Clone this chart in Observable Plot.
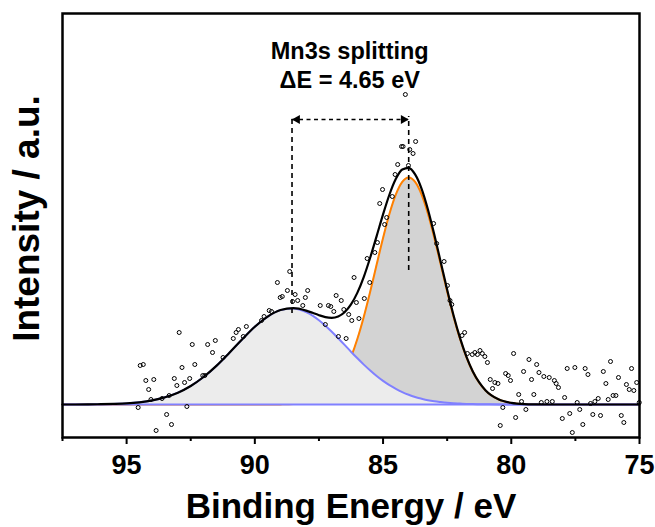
<!DOCTYPE html>
<html>
<head>
<meta charset="utf-8">
<script src="https://cdn.jsdelivr.net/npm/d3@7"></script>
<script src="https://cdn.jsdelivr.net/npm/@observablehq/plot@0.6"></script>
<style>
html, body { margin: 0; padding: 0; background: #fff; }
</style>
</head>
<body>
<div id="chart"></div>
<script>
// Binding energy grid (eV) at which the fitted curves are read
const curveBE = [97.5, 97, 96.5, 96, 95.5, 95, 94.5, 94, 93.5, 93, 92.5, 92, 91.5, 91, 90.5, 90, 89.5, 89, 88.5, 88,
  87.75, 87.5, 87.25, 87, 86.75, 86.5, 86.25, 86, 85.75, 85.5, 85.25, 85, 84.75, 84.5, 84.25, 84, 83.75, 83.5, 83.25, 83,
  82.75, 82.5, 82.25, 82, 81.75, 81.5, 81.25, 81, 80.5, 80, 79.5, 79, 78.5, 78, 77.5, 77, 76.5, 76, 75.5, 75];
// Satellite component (blue) and main component (orange), background-subtracted
const blueFit = [0, 0, 0.1, 0.3, 0.6, 1.1, 2.2, 4.1, 7.2, 11.8, 18.5, 27.5, 38.6, 51.5, 65.0, 77.7, 87.9, 94.4, 95.9, 92.3,
  88.8, 84.2, 78.8, 72.8, 66.3, 59.6, 52.8, 46.2, 39.9, 34.0, 28.5, 23.6, 19.3, 15.6, 12.4, 9.7, 7.5, 5.8, 4.3, 3.2,
  2.4, 1.7, 1.2, 0.9, 0.6, 0.4, 0.3, 0.2, 0.1, 0, 0, 0, 0, 0, 0, 0, 0, 0, 0, 0];
const orangeFit = [0, 0, 0, 0, 0, 0, 0, 0, 0, 0, 0, 0, 0, 0, 0, 0, 0, 0.1, 0.4, 1.6,
  2.9, 5.1, 8.6, 13.9, 21.8, 32.7, 47.3, 65.7, 87.8, 113.0, 139.9, 166.5, 190.7, 210.1, 222.6, 227, 222.6, 210.1, 190.7, 166.5,
  139.9, 113.0, 87.8, 65.7, 47.3, 32.7, 21.8, 13.9, 5.1, 1.6, 0.4, 0.1, 0, 0, 0, 0, 0, 0, 0, 0];
// Background (baseline) level
const baselineLevel = [0];

// Measured spectrum points
const pointBE = [94.55,94.47,94.35,94.25,94.14,94.05,93.94,93.85,93.62,93.44,
  93.34,93.25,93.14,93.04,92.95,92.84,92.74,92.65,92.54,92.44,
  92.34,92.03,91.95,91.84,91.65,91.54,91.24,90.84,90.73,90.64,
  90.45,90.33,89.74,89.64,89.44,89.35,89.12,89.01,88.93,88.73,
  88.64,88.53,88.43,88.33,88.13,88.03,87.94,87.45,87.25,87.13,
  87.04,86.92,86.83,86.74,86.63,86.53,86.44,86.34,86.22,86.13,
  86.04,85.94,85.73,85.62,85.52,85.32,85.22,85.13,85.02,84.94,
  84.86,84.64,84.53,84.43,84.28,84.22,84.13,84.01,83.96,83.83,
  83.73,83.03,82.91,82.62,82.49,82.39,82.32,81.92,81.82,81.71,
  81.52,81.42,81.32,81.22,81.13,81.03,80.93,80.82,80.73,80.64,
  80.52,80.43,80.33,80.22,80.12,80.03,79.91,79.83,79.71,79.60,
  79.52,79.43,79.31,79.21,79.12,79.01,78.92,78.83,78.73,78.61,
  78.52,78.40,78.32,78.25,78.16,78.01,77.92,77.82,77.72,77.62,
  77.52,77.43,77.33,77.21,77.12,77.01,76.91,76.82,76.74,76.61,
  76.52,76.41,76.31,76.22,76.13,76.03,75.92,75.82,75.71,75.61,
  75.51,75.40,75.31,75.22,75.11,75.01];
const pointIntensity = [-3,39,40,24,15,5,25,-26,6,-10,
  9,-20,26,19,72,37,22,-2,26,60,
  40,29,29,60,52,64,47,66,72,75,
  68,78,84,88,94,93,122,107,108,114,
  133,103,110,104,99,107,114,99,80,99,
  98,93,109,68,104,95,66,90,84,127,
  102,86,106,146,122,152,162,201,215,180,
  187,208,230,240,258,258,310,239,255,251,
  263,181,161,143,119,104,100,69,72,51,
  50,52,50,54,51,48,42,25,16,22,
  21,-21,-3,31,29,24,51,-13,10,3,
  33,-5,45,25,10,40,32,2,28,3,
  27,3,24,21,17,-14,7,36,-9,-28,
  37,2,-5,-20,36,30,1,-10,3,6,
  -11,33,21,5,43,9,9,27,-11,-18,
  20,15,36,14,22,2];

// Axis ticks
const majorTicks = [95, 90, 85, 80, 75];
const minorTicks = [97.5, 92.5, 87.5, 82.5, 77.5];

// Annotation: peak positions and the splitting label
const peakBE = [88.55, 84.0];
const peakDashBottom = [91, 134];
const peakDashTop = [285, 288];
const arrowLevel = 285;
const annotationLines = ["Mn3s splitting", "\u0394E = 4.65 eV"];
const annotationY = [346, 317];
const annotationBE = 86.3;

const xTitle = "Binding Energy / eV";
const yTitle = "Intensity / a.u.";

// Tables built from the arrays
const fits = curveBE.map((x, i) => ({x, blue: blueFit[i], orange: orangeFit[i], total: blueFit[i] + orangeFit[i]}));
const points = pointBE.map((x, i) => ({x, y: pointIntensity[i]}));
const dashes = peakBE.map((x, i) => ({x, y1: peakDashBottom[i], y2: peakDashTop[i]}));
const annotations = annotationLines.map((t, i) => ({t, x: annotationBE, y: annotationY[i]}));
const arrowRow = [{x1: peakBE[0], x2: peakBE[1], y: arrowLevel}];
const leftHead = [{x: peakBE[0], y: arrowLevel}];
const rightHead = [{x: peakBE[1], y: arrowLevel}];

const font = "'Liberation Sans', Arial, Helvetica, sans-serif";

const chart = Plot.plot({
  width: 655,
  height: 527,
  marginLeft: 62,
  marginRight: 16,
  marginTop: 13,
  marginBottom: 90,
  style: {fontFamily: font, background: "white", overflow: "visible", color: "black"},
  x: {domain: [97.5, 75]},
  y: {domain: [-33, 391], axis: null},
  marks: [
    Plot.areaY(fits, {x: "x", y: "orange", fill: "#d3d3d3", curve: "monotone-x"}),
    Plot.lineY(fits, {x: "x", y: "orange", stroke: "#ff8000", strokeWidth: 2, curve: "monotone-x"}),
    Plot.areaY(fits, {x: "x", y: "blue", fill: "#ececec", curve: "monotone-x"}),
    Plot.lineY(fits, {x: "x", y: "blue", stroke: "#8080ff", strokeWidth: 2, curve: "monotone-x"}),
    Plot.ruleY(baselineLevel, {stroke: "#8080ff", strokeWidth: 2}),
    Plot.lineY(fits, {x: "x", y: "total", stroke: "black", strokeWidth: 2.2, curve: "monotone-x"}),
    Plot.dot(points, {x: "x", y: "y", r: 2, stroke: "black", strokeWidth: 1, fill: "none"}),
    Plot.ruleX(dashes, {x: "x", y1: "y1", y2: "y2", stroke: "black", strokeWidth: 1.6, strokeDasharray: "5,4"}),
    Plot.ruleY(arrowRow, {y: "y", x1: "x1", x2: "x2", stroke: "black", strokeWidth: 1.4, strokeDasharray: "4,3.5"}),
    Plot.dot(leftHead, {x: "x", y: "y", symbol: "triangle", rotate: -90, r: 3.4, fill: "black", stroke: "none", dx: 5.2}),
    Plot.dot(rightHead, {x: "x", y: "y", symbol: "triangle", rotate: 90, r: 3.4, fill: "black", stroke: "none", dx: -5.2}),
    Plot.text(annotations, {x: "x", y: "y", text: "t", fontSize: 23.5, fontWeight: "bold", lineAnchor: "bottom", textAnchor: "middle", fill: "black"}),
    Plot.axisX({ticks: majorTicks, tickSize: 7, tickPadding: 10, strokeWidth: 2, fontSize: 27, fontWeight: "bold", label: null, tickFormat: d => String(d)}),
    Plot.axisX({ticks: minorTicks, tickSize: 4, strokeWidth: 2, label: null, tickFormat: () => ""}),
    Plot.frame({stroke: "black", strokeWidth: 2.5}),
    Plot.text([xTitle], {frameAnchor: "bottom", dy: 80, lineAnchor: "bottom", textAnchor: "middle", fontSize: 35, fontWeight: "bold", fill: "black"}),
    Plot.text([yTitle], {frameAnchor: "left", dx: -35, dy: -7, rotate: -90, lineAnchor: "middle", textAnchor: "middle", fontSize: 37, fontWeight: "bold", fill: "black"})
  ]
});
document.getElementById("chart").appendChild(chart);
</script>
</body>
</html>
